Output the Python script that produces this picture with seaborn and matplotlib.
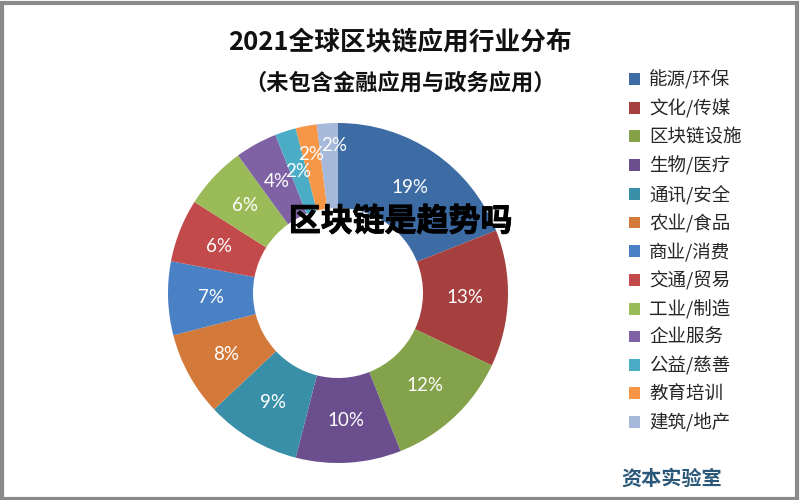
import matplotlib
matplotlib.use("Agg")
import matplotlib.pyplot as plt
import matplotlib.patheffects as pe
import seaborn as sns
import numpy as np
from matplotlib.patches import Rectangle, Patch

categories = ["能源/环保", "文化/传媒", "区块链设施", "生物/医疗", "通讯/安全", "农业/食品",
              "商业/消费", "交通/贸易", "工业/制造", "企业服务", "公益/慈善", "教育培训", "建筑/地产"]
values = [19, 13, 12, 10, 9, 8, 7, 6, 6, 4, 2, 2, 2]
colors = ["#3D6BA3", "#A5403E", "#84A24A", "#6A4E8E", "#3A8FA8", "#D3793A",
          "#4A80C4", "#C34A4A", "#9BBB59", "#7E62A4", "#4BACC6", "#F79646", "#A7B9DA"]
title = "2021全球区块链应用行业分布"
subtitle = "（未包含金融应用与政务应用）"
overlay = "区块链是趋势吗"
watermark = "资本实验室"

sns.set_theme(style="white")
plt.rcParams["font.family"] = ["Noto Sans CJK SC", "DejaVu Sans"]

fig = plt.figure(figsize=(8, 5), dpi=100)
fig.patch.set_facecolor("white")

ax = fig.add_axes([0.21, 0.074, 0.425, 0.68])
wedges, texts, autotexts = ax.pie(
    values, colors=colors, startangle=90, counterclock=False,
    radius=1.0, autopct="%1.0f%%", pctdistance=0.75,
    wedgeprops=dict(width=0.5, edgecolor="none"),
    textprops=dict(color="white", fontsize=13.5, family=["Lato", "DejaVu Sans"]))
ax.set_xlim(-1, 1)
ax.set_ylim(-1, 1)
ax.set_aspect("equal")
ax.axis("off")

# nudge the last two small labels outward as in the reference
for i, r, dx in [(11, 0.83, 0.0), (12, 0.87, 0.03)]:
    w = wedges[i]
    ang = np.deg2rad((w.theta1 + w.theta2) / 2)
    autotexts[i].set_position((r * np.cos(ang) + dx, r * np.sin(ang)))

fig.text(0.5, 0.915, title, ha="center", va="center", fontsize=18.5, fontweight="bold", color="#111111")
fig.text(0.5, 0.834, subtitle, ha="center", va="center", fontsize=16, fontweight="bold", color="#111111")

handles = [Patch(facecolor=c, edgecolor="none") for c in colors]
fig.legend(handles, categories, loc="upper left", bbox_to_anchor=(0.777, 0.874),
           frameon=False, fontsize=13.3, handlelength=0.6, handleheight=0.6,
           handletextpad=0.5, labelspacing=0.52, borderaxespad=0)

fig.text(0.501, 0.556, overlay, ha="center", va="center", fontsize=23, fontweight="heavy", color="black",
         path_effects=[pe.withStroke(linewidth=0.7, foreground="black")])
fig.text(0.84, 0.044, watermark, ha="center", va="center", fontsize=14.5, fontweight="bold", color="#2B5878")

fig.patches.append(Rectangle((0.002, 0.003), 0.994, 0.992, transform=fig.transFigure,
                             fill=False, edgecolor="#8a8a8a", linewidth=3))

fig.savefig("out.png", dpi=100, facecolor="white")
